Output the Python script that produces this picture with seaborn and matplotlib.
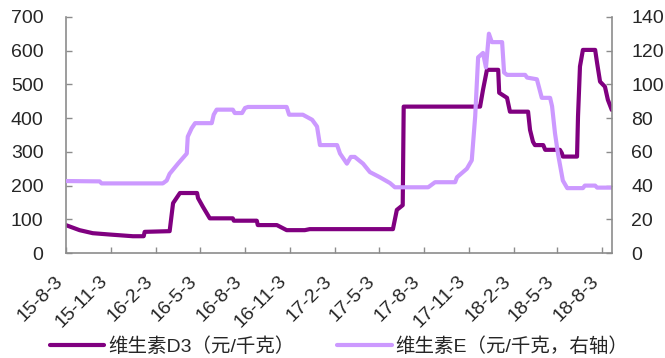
import seaborn as sns
import pandas as pd
import matplotlib
matplotlib.use('Agg')
import matplotlib.pyplot as plt
import matplotlib.transforms as mtransforms

# 维生素D3 价格（元/千克），左轴
d3_dates = ['2015-08-03', '2015-08-31', '2015-09-27', '2015-11-01', '2015-12-18', '2016-01-09',
            '2016-01-11', '2016-03-02', '2016-03-09', '2016-03-23', '2016-04-27', '2016-04-29',
            '2016-05-09', '2016-05-23', '2016-07-09', '2016-07-11', '2016-08-27', '2016-08-29',
            '2016-10-07', '2016-10-19', '2016-10-27', '2016-12-03', '2016-12-13', '2017-06-01',
            '2017-06-09', '2017-06-21', '2017-06-23', '2017-11-26', '2017-12-02', '2017-12-10',
            '2018-01-02', '2018-01-04', '2018-01-20', '2018-01-26', '2018-03-04', '2018-03-08',
            '2018-03-14', '2018-03-18', '2018-04-04', '2018-04-08', '2018-05-08', '2018-05-12',
            '2018-05-14', '2018-06-12', '2018-06-14', '2018-06-18', '2018-06-24', '2018-07-19',
            '2018-07-23', '2018-07-29', '2018-08-08', '2018-08-14', '2018-08-22']
d3_values = [83, 68, 59, 55, 50, 50,
             63, 65, 148, 178, 178, 163,
             137, 103, 103, 96, 96, 83,
             83, 74, 68, 68, 71, 71,
             128, 142, 434, 434, 484, 543,
             543, 475, 460, 419, 419, 365,
             330, 320, 320, 306, 306, 296,
             286, 286, 405, 553, 602, 602,
             563, 508, 493, 454, 424]

# 维生素E 价格（元/千克），右轴
e_dates = ['2015-08-03', '2015-10-11', '2015-10-15', '2016-02-17', '2016-02-25', '2016-03-02',
           '2016-03-19', '2016-04-06', '2016-04-08', '2016-04-16', '2016-04-23', '2016-05-27',
           '2016-05-31', '2016-06-06', '2016-07-09', '2016-07-13', '2016-07-28', '2016-08-03',
           '2016-08-09', '2016-10-27', '2016-11-01', '2016-11-29', '2016-12-18', '2016-12-28',
           '2017-01-03', '2017-02-07', '2017-02-13', '2017-02-27', '2017-03-07', '2017-03-15',
           '2017-04-01', '2017-04-15', '2017-05-05', '2017-05-26', '2017-06-05', '2017-08-12',
           '2017-08-26', '2017-10-06', '2017-10-10', '2017-10-30', '2017-11-09', '2017-11-16',
           '2017-11-22', '2017-12-02', '2017-12-08', '2017-12-14', '2017-12-20', '2018-01-10',
           '2018-01-14', '2018-01-20', '2018-02-26', '2018-03-02', '2018-03-22', '2018-04-01',
           '2018-04-18', '2018-04-22', '2018-04-28', '2018-05-04', '2018-05-14', '2018-05-23',
           '2018-06-24', '2018-06-28', '2018-07-19', '2018-07-23', '2018-08-22']
e_values = [42.7, 42.5, 41.3, 41.3, 43, 47,
            53, 59, 69, 74, 77, 77,
            82, 85, 85, 83, 83, 86,
            86.6, 86.6, 82, 82, 79, 75,
            64, 64, 59, 53, 57, 57,
            53, 48, 45, 41.5, 39, 39,
            42, 42, 45, 50, 55, 81,
            116, 118.6, 110, 130, 125, 125,
            107, 105.6, 105.6, 104, 103, 92,
            92, 87, 71, 59, 43, 38.5,
            38.5, 40, 40, 38.8, 38.8]

tick_labels = ['15-8-3', '15-11-3', '16-2-3', '16-5-3', '16-8-3', '16-11-3', '17-2-3',
               '17-5-3', '17-8-3', '17-11-3', '18-2-3', '18-5-3', '18-8-3']

d3 = pd.DataFrame({'date': pd.to_datetime(d3_dates), 'price': d3_values})
ve = pd.DataFrame({'date': pd.to_datetime(e_dates), 'price': e_values})
tick_dates = pd.to_datetime(['20' + t for t in tick_labels], format='%Y-%m-%d')

sns.set_theme(style='white')
plt.rcParams['font.family'] = ['Liberation Sans', 'Noto Sans CJK SC']

axis_grey = '#8c8c8c'
fig = plt.figure(figsize=(6.65, 3.58), dpi=100)
ax = fig.add_axes([0.099, 0.293, 0.821, 0.66])
ax2 = ax.twinx()

sns.lineplot(data=d3, x='date', y='price', ax=ax, color='#800080', linewidth=3, legend=False)
sns.lineplot(data=ve, x='date', y='price', ax=ax2, color='#CC99FF', linewidth=3, legend=False)

ax.set_xlim(d3['date'].iloc[0], d3['date'].iloc[-1])
ax.set_ylim(0, 700)
ax2.set_ylim(0, 140)
ax.set_yticks(range(0, 701, 100))
ax2.set_yticks(range(0, 141, 20))
ax.set_xticks(tick_dates)
ax.set_xticklabels(tick_labels, rotation=45, ha='right')
# push the rotated labels a bit to the right, like the original
offset = mtransforms.ScaledTranslation(14 / 100, 0, fig.dpi_scale_trans)
for lab in ax.get_xticklabels():
    lab.set_transform(lab.get_transform() + offset)

for a in (ax, ax2):
    a.set_xlabel('')
    a.set_ylabel('')
    a.spines['top'].set_visible(False)
    for s in ('left', 'right', 'bottom'):
        a.spines[s].set_color(axis_grey)
        a.spines[s].set_linewidth(1.2)
ax.spines['right'].set_visible(False)
ax2.spines['left'].set_visible(False)
ax2.spines['bottom'].set_visible(False)

ax.tick_params(axis='y', direction='in', length=4, width=1, color=axis_grey, labelsize=14, pad=16, left=True)
ax.tick_params(axis='x', direction='in', length=4, width=1, color=axis_grey, labelsize=14, pad=14, bottom=True)
ax2.tick_params(axis='y', direction='in', length=4, width=1, color=axis_grey, labelsize=14, pad=14, right=True)

handles = [ax.lines[0], ax2.lines[0]]
fig.legend(handles, ['维生素D3（元/千克）', '维生素E（元/千克，右轴）'],
           loc='lower center', bbox_to_anchor=(0.51, -0.043), ncol=2, frameon=False,
           fontsize=14, handlelength=2.8, handletextpad=0.2, columnspacing=2.2)

fig.savefig('out.png', dpi=100)
